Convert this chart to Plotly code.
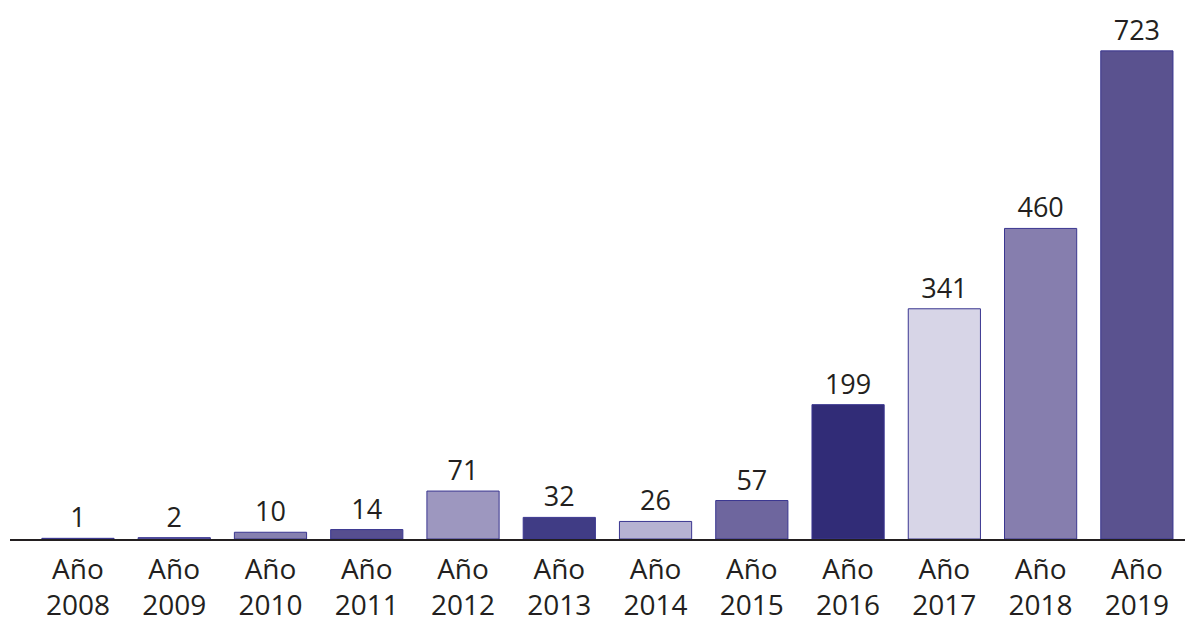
import plotly.graph_objects as go

years = ["2008", "2009", "2010", "2011", "2012", "2013", "2014", "2015", "2016", "2017", "2018", "2019"]
values = [1, 2, 10, 14, 71, 32, 26, 57, 199, 341, 460, 723]
colors = ["#2e2a78", "#6a64a8", "#8680b0", "#564e8f", "#9d97bf", "#403c85",
          "#b6b2d2", "#6e669e", "#312c77", "#d7d5e7", "#867eae", "#5a528f"]
tick_labels = ["Año<br>" + y for y in years]

font_family = "Open Sans, Noto Sans, sans-serif"

fig = go.Figure(go.Bar(
    x=list(range(len(years))),
    y=values,
    width=0.75,
    marker=dict(color=colors, line=dict(color="#3a3690", width=1)),
    text=[str(v) for v in values],
    textposition="outside",
    textfont=dict(size=27, color="#231f20", family=font_family),
    cliponaxis=False,
))

fig.update_layout(
    width=1185, height=615,
    margin=dict(l=2, r=0, t=0, b=82),
    paper_bgcolor="white", plot_bgcolor="white",
    showlegend=False,
    font=dict(family=font_family, color="#231f20"),
    xaxis=dict(
        tickmode="array",
        tickvals=list(range(len(years))),
        ticktext=tick_labels,
        range=[-0.706, 11.583],
        showline=True, linecolor="#231f20", linewidth=2,
        showgrid=False, zeroline=False,
        ticks="", tickfont=dict(size=28, color="#231f20", family=font_family),
        ticklabelstandoff=4,
    ),
    yaxis=dict(
        range=[0, 786.5],
        visible=False, showgrid=False, zeroline=False,
    ),
)

fig.write_html("out.html")
